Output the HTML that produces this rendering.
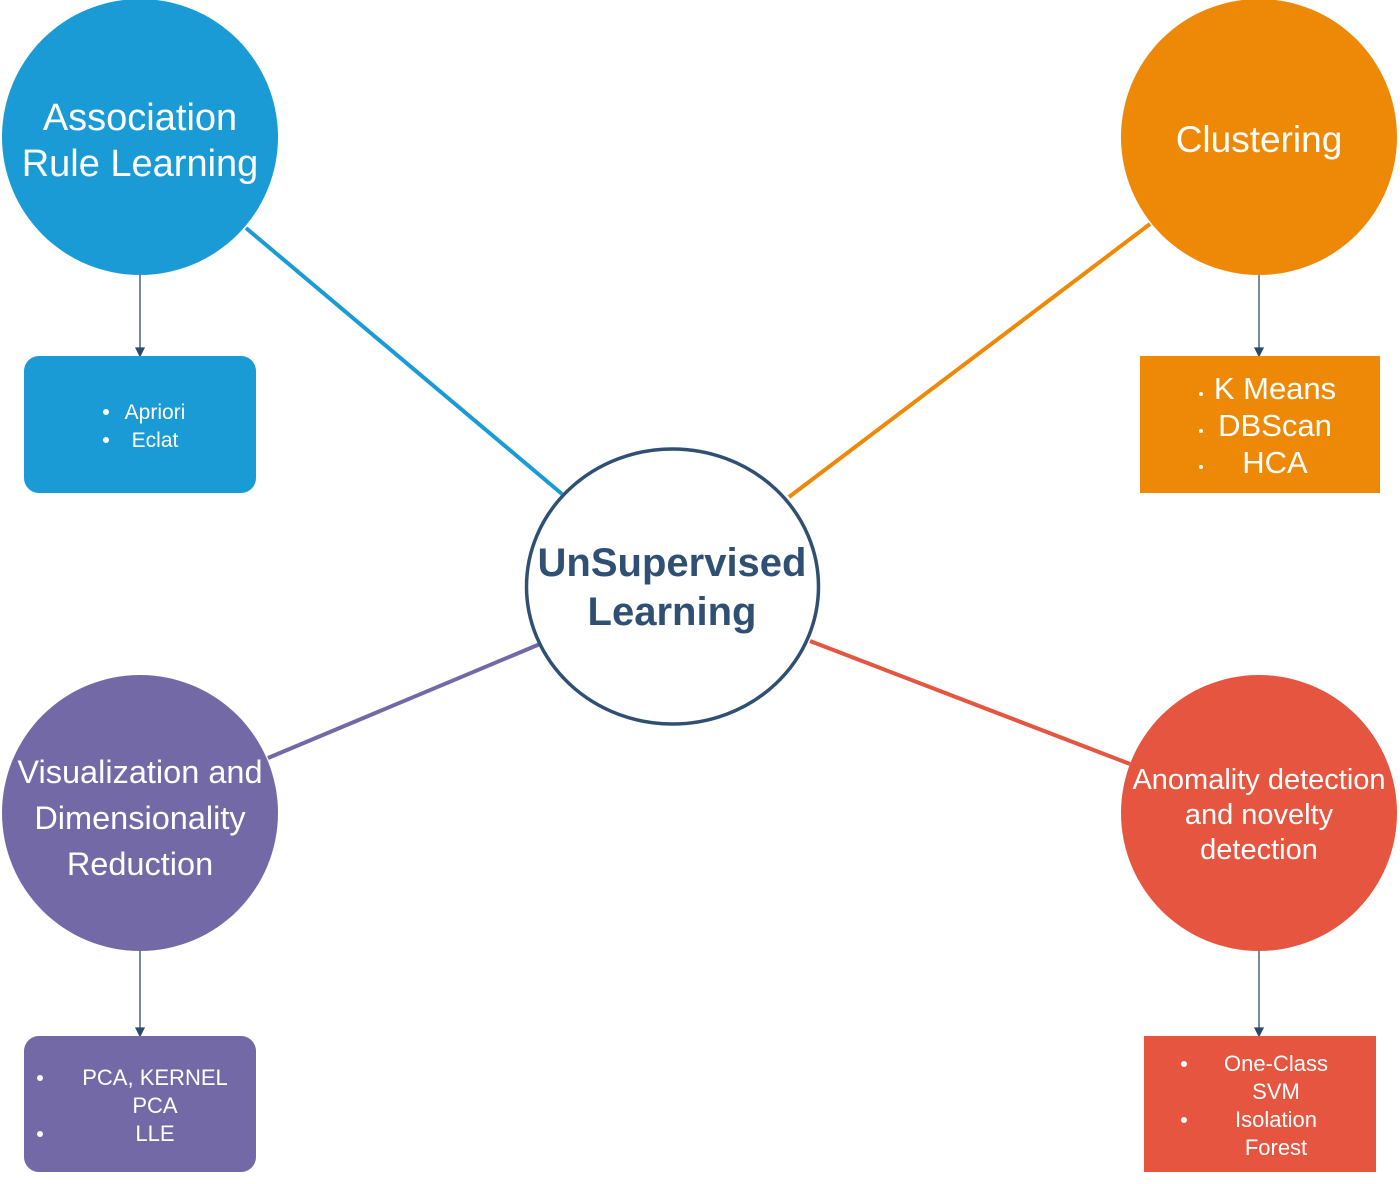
<!DOCTYPE html>
<html><head><meta charset="utf-8"><style>
html,body{margin:0;padding:0;background:#fff;}
svg{display:block;font-family:"Liberation Sans",sans-serif;}
</style></head><body>
<svg width="1400" height="1184" viewBox="0 0 1400 1184" xmlns="http://www.w3.org/2000/svg">
<line x1="246" y1="228" x2="562" y2="494" stroke="#1a9bd5" stroke-width="4"/>
<line x1="1150" y1="224" x2="789" y2="497" stroke="#ee8907" stroke-width="4"/>
<line x1="268" y1="758" x2="540" y2="644" stroke="#7369a6" stroke-width="4"/>
<line x1="810" y1="641" x2="1130" y2="764" stroke="#e5553f" stroke-width="4"/>
<g stroke="#2c4a6e" stroke-width="1.3">
<line x1="140" y1="275" x2="140" y2="350"/><path d="M136,348 L140,356 L144,348Z" fill="#2c4a6e"/>
<line x1="1259" y1="275" x2="1259" y2="350"/><path d="M1255,348 L1259,356 L1263,348Z" fill="#2c4a6e"/>
<line x1="140" y1="951" x2="140" y2="1030"/><path d="M136,1028 L140,1036 L144,1028Z" fill="#2c4a6e"/>
<line x1="1259" y1="951" x2="1259" y2="1030"/><path d="M1255,1028 L1259,1036 L1263,1028Z" fill="#2c4a6e"/>
</g>
<circle cx="140" cy="137" r="138" fill="#1a9bd5"/>
<circle cx="1259" cy="137" r="138" fill="#ee8907"/>
<circle cx="140" cy="813" r="138" fill="#7369a6"/>
<circle cx="1259" cy="813" r="138" fill="#e5553f"/>
<ellipse cx="672.5" cy="586.5" rx="146" ry="137.5" fill="#fff" stroke="#2f5073" stroke-width="3.5"/>
<rect x="24" y="356" width="232" height="137" rx="15" fill="#1a9bd5"/>
<rect x="1140" y="356" width="240" height="137" fill="#ee8907"/>
<rect x="24" y="1036" width="232" height="136" rx="15" fill="#7369a6"/>
<rect x="1144" y="1036" width="232" height="136" fill="#e5553f"/>
<g fill="#fff" text-anchor="middle">
<text x="140" y="130" font-size="38">Association</text>
<text x="140" y="176" font-size="38">Rule Learning</text>
<text x="1259" y="152" font-size="37">Clustering</text>
<text x="140" y="783" font-size="32.5">Visualization and</text>
<text x="140" y="829" font-size="32.5">Dimensionality</text>
<text x="140" y="875" font-size="32.5">Reduction</text>
<text x="1259" y="789" font-size="29">Anomality detection</text>
<text x="1259" y="824" font-size="29">and novelty</text>
<text x="1259" y="859" font-size="29">detection</text>
<text x="155" y="419" font-size="21">Apriori</text>
<text x="155" y="447" font-size="21">Eclat</text>
<text x="1275" y="399" font-size="31">K Means</text>
<text x="1275" y="436" font-size="31">DBScan</text>
<text x="1275" y="473" font-size="31">HCA</text>
<text x="155" y="1085" font-size="22">PCA, KERNEL</text>
<text x="155" y="1113" font-size="22">PCA</text>
<text x="155" y="1141" font-size="22">LLE</text>
<text x="1276" y="1071" font-size="22">One-Class</text>
<text x="1276" y="1099" font-size="22">SVM</text>
<text x="1276" y="1127" font-size="22">Isolation</text>
<text x="1276" y="1155" font-size="22">Forest</text>
</g>
<g fill="#fff">
<circle cx="106" cy="412" r="3"/><circle cx="106" cy="440" r="3"/>
<circle cx="1201" cy="394" r="2"/><circle cx="1201" cy="431" r="2"/><circle cx="1201" cy="467" r="2"/>
<circle cx="40" cy="1078" r="3"/><circle cx="40" cy="1134" r="3"/>
<circle cx="1184" cy="1064" r="3"/><circle cx="1184" cy="1120" r="3"/>
</g>
<g fill="#2f5073" text-anchor="middle" font-weight="bold" font-size="40">
<text x="672" y="576">UnSupervised</text>
<text x="672" y="625">Learning</text>
</g>
</svg>
</body></html>
